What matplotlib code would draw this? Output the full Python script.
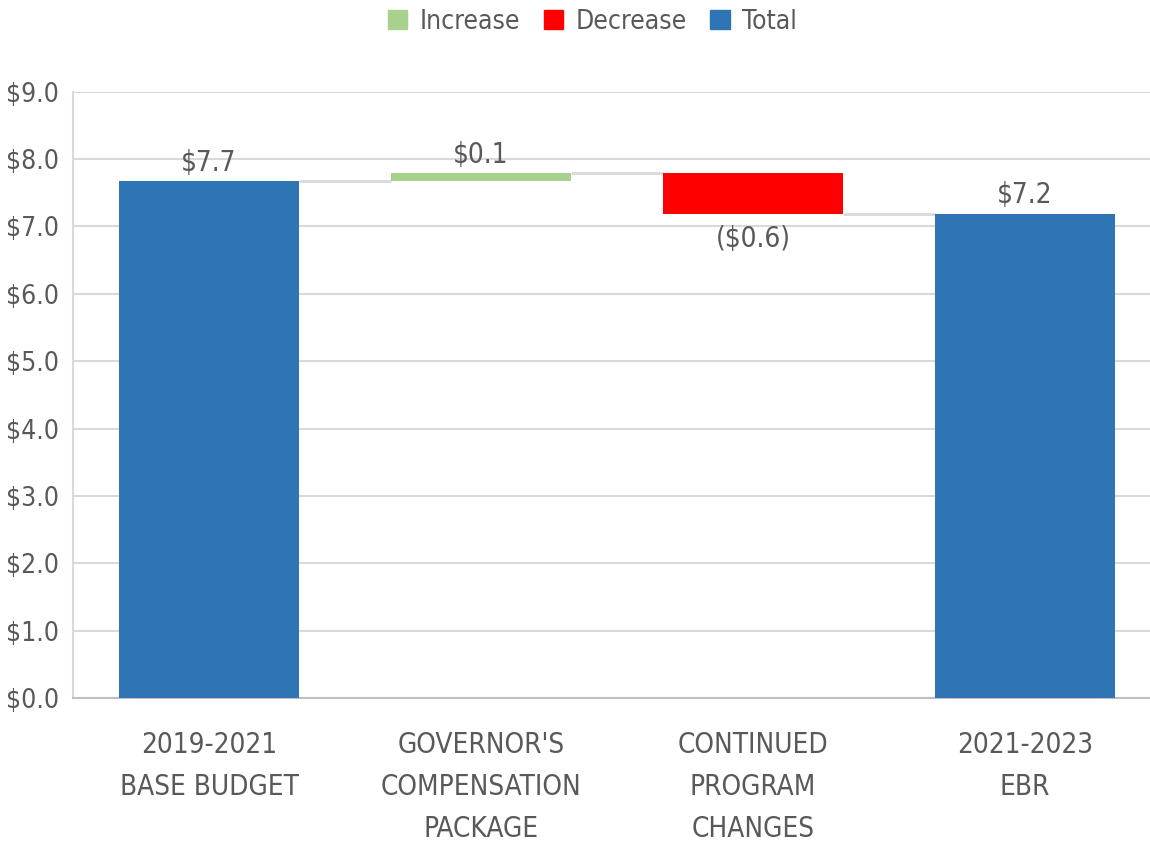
import matplotlib
matplotlib.use("Agg")
import matplotlib.pyplot as plt
from matplotlib import font_manager
from matplotlib.patches import Patch

# 数据
categories = ["2019-2021\nBASE BUDGET", "GOVERNOR'S\nCOMPENSATION\nPACKAGE",
              "CONTINUED\nPROGRAM\nCHANGES", "2021-2023\nEBR"]
steps = [7.67, 0.12, -0.60, 7.19]
kinds = ["total", "increase", "decrease", "total"]
value_labels = ["$7.7", "$0.1", "($0.6)", "$7.2"]
y_ticks = [0, 1, 2, 3, 4, 5, 6, 7, 8, 9]

colors = {"increase": "#a9d18e", "decrease": "#ff0000", "total": "#2e75b6"}
text_color = "#595959"

names = {f.name for f in font_manager.fontManager.ttflist}
if "Liberation Sans Narrow" in names:
    plt.rcParams['font.family'] = ['Liberation Sans Narrow', 'DejaVu Sans']
else:
    plt.rcParams['font.family'] = ['DejaVu Sans']
    plt.rcParams['font.stretch'] = 'condensed'

fig = plt.figure(figsize=(11.5, 8.41), dpi=100)
ax = fig.add_axes([0.0635, 0.170, 0.946, 0.721])

width = 0.662
level = 0.0
tops = []
for i, (v, k) in enumerate(zip(steps, kinds)):
    if k == "total":
        bottom, height = 0.0, v
        level = v
    else:
        bottom = level if v > 0 else level + v
        height = abs(v)
        level = level + v
    ax.bar(i, height, bottom=bottom, width=width, color=colors[k], zorder=3)
    tops.append((bottom, bottom + height, level))

# 连接线
for i in range(len(steps) - 1):
    lvl = tops[i][2]
    ax.plot([i + width / 2, i + 1 - width / 2], [lvl, lvl], color="#d9d9d9",
            lw=2, zorder=2, solid_capstyle="butt")

# 数值标签
for i, (lab, k) in enumerate(zip(value_labels, kinds)):
    b, t, _ = tops[i]
    if k == "decrease":
        ax.annotate(lab, (i, b), xytext=(0, -8), textcoords="offset points",
                    ha="center", va="top", fontsize=20, color=text_color)
    else:
        ax.annotate(lab, (i, t), xytext=(0, 3), textcoords="offset points",
                    ha="center", va="bottom", fontsize=20, color=text_color)

ax.set_xlim(-0.5, len(steps) - 0.5)
ax.set_ylim(0, 9)
ax.set_yticks(y_ticks)
ax.set_yticklabels([f"${t:.1f}" for t in y_ticks])
ax.set_xticks(range(len(categories)))
ax.set_xticklabels(categories, linespacing=1.62)
ax.tick_params(axis="both", length=0, labelsize=20, colors=text_color)
ax.tick_params(axis="x", pad=24)
ax.tick_params(axis="y", pad=10, labelsize=19)
ax.grid(axis="y", color="#d9d9d9", lw=1.5, zorder=0)
ax.set_axisbelow(True)
for s in ["top", "right"]:
    ax.spines[s].set_visible(False)
ax.spines["left"].set_color("#d9d9d9")
ax.spines["left"].set_linewidth(1.5)
ax.spines["bottom"].set_color("#bfbfbf")
ax.spines["bottom"].set_linewidth(1.5)

handles = [Patch(color=colors["increase"], label="Increase"),
           Patch(color=colors["decrease"], label="Decrease"),
           Patch(color=colors["total"], label="Total")]
leg = fig.legend(handles=handles, loc="upper center", bbox_to_anchor=(0.515, 1.018),
                 ncol=3, frameon=False, fontsize=19, handlelength=0.75,
                 handleheight=0.75, handletextpad=0.45, columnspacing=0.9)
for t in leg.get_texts():
    t.set_color(text_color)

fig.savefig("out.png", dpi=100)
